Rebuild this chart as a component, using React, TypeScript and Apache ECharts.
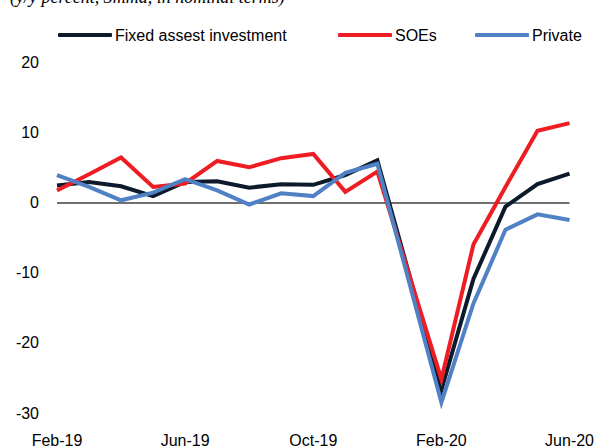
import React, { useEffect, useRef } from "react";
import * as echarts from "echarts";

const months = [
  "Feb-19", "Mar-19", "Apr-19", "May-19", "Jun-19", "Jul-19", "Aug-19", "Sep-19",
  "Oct-19", "Nov-19", "Dec-19", "Jan-20", "Feb-20", "Mar-20", "Apr-20", "May-20", "Jun-20",
];
const fixedAsset = [2.4, 2.9, 2.3, 0.9, 2.9, 3.0, 2.1, 2.6, 2.5, 3.9, 6.0, null, -26.7, -10.9, -0.6, 2.6, 4.1];
const soes = [1.7, 4.0, 6.4, 2.2, 2.7, 5.9, 5.0, 6.3, 6.9, 1.5, 4.4, null, -25.2, -6.0, 2.2, 10.2, 11.3];
const privateInv = [3.9, 2.2, 0.3, 1.4, 3.3, 1.7, -0.3, 1.3, 0.9, 4.2, 5.5, null, -28.5, -14.4, -3.9, -1.7, -2.5];
const seriesNames = ["Fixed assest investment", "SOEs", "Private"];
const seriesColors = ["#0c1a2b", "#ee1d24", "#4f81c4"];
const subtitle = "(y/y percent, 3mma, in nominal terms)";

const FONT = '"Liberation Sans", Arial, sans-serif';

export default function App() {
  const ref = useRef<HTMLDivElement>(null);
  useEffect(() => {
    if (!ref.current) return;
    const chart = echarts.init(ref.current, undefined, { renderer: "svg" });
    const datas = [fixedAsset, soes, privateInv];
    const legendLefts = [53, 333, 470];
    chart.setOption({
      animation: false,
      backgroundColor: "#ffffff",
      graphic: [
        {
          type: "text",
          left: 10,
          top: -12,
          style: {
            text: subtitle,
            font: 'italic 18px "Liberation Serif", "Times New Roman", serif',
            fill: "#000",
          },
        },
      ],
      legend: seriesNames.map((n, i) => ({
        data: [n],
        left: legendLefts[i],
        top: 22,
        icon: "roundRect",
        itemWidth: 54,
        itemHeight: 4,
        itemGap: 0,
        textStyle: { fontFamily: FONT, fontSize: 16, color: "#000", padding: [0, 0, 0, -2] },
      })),
      grid: { left: 57, right: 25, top: 62, bottom: 30, containLabel: false },
      xAxis: {
        type: "category",
        data: months,
        boundaryGap: false,
        axisLine: { show: false },
        axisTick: { show: false },
        splitLine: { show: false },
        axisLabel: {
          interval: 3,
          margin: 19,
          fontFamily: FONT,
          fontSize: 16,
          color: "#000",
        },
      },
      yAxis: {
        type: "value",
        min: -30,
        max: 20,
        interval: 10,
        axisLine: { show: false },
        axisTick: { show: false },
        splitLine: { show: false },
        axisLabel: { margin: 18, fontFamily: FONT, fontSize: 16, color: "#000" },
      },
      series: seriesNames.map((n, i) => ({
        name: n,
        type: "line",
        data: datas[i],
        connectNulls: true,
        symbol: "none",
        color: seriesColors[i],
        lineStyle: { width: 4, color: seriesColors[i], join: "miter", cap: "butt" },
        z: 3 + i,
        markLine:
          i === 0
            ? {
                silent: true,
                symbol: "none",
                label: { show: false },
                lineStyle: { color: "#404040", width: 1.5, type: "solid" },
                data: [{ yAxis: 0 }],
                z: 1,
              }
            : undefined,
      })),
    });
    return () => chart.dispose();
  }, []);
  return (
    <div
      ref={ref}
      style={{ position: "absolute", left: 0, top: 0, width: 597, height: 448 }}
    />
  );
}
